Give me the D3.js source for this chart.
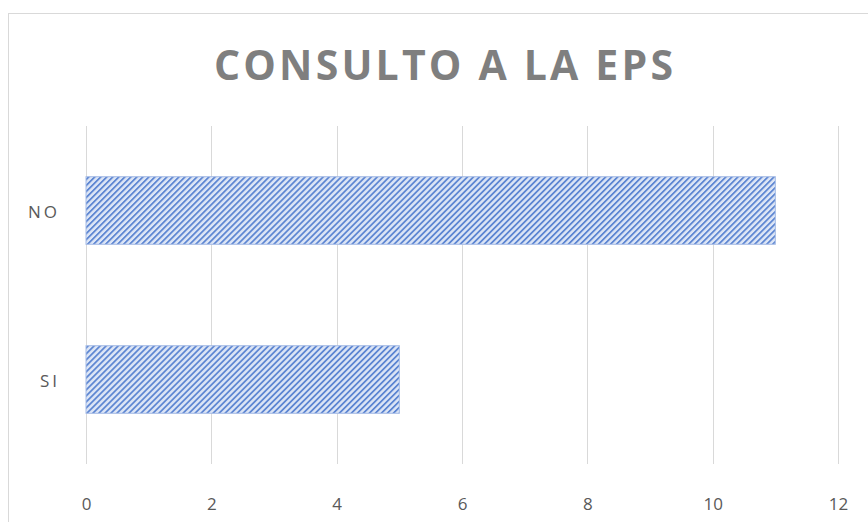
<!DOCTYPE html>
<html>
<head>
<meta charset="utf-8">
<script src="https://cdn.jsdelivr.net/npm/d3@7"></script>
<style>
  body { margin: 0; background: #fff; }
  svg { display: block; }
</style>
</head>
<body>
<svg class="chart" width="868" height="522"></svg>
<script>
// data
var categories = ["NO", "SI"];
var values = [11, 5];
var xTicks = [0, 2, 4, 6, 8, 10, 12];
var title = "CONSULTO A LA EPS";

var svg = d3.select("svg.chart");

// chart border (runs off the right and bottom edge)
svg.append("rect")
    .attr("x", 8.5).attr("y", 13.5)
    .attr("width", 900).attr("height", 600)
    .attr("fill", "#fff")
    .attr("stroke", "#d9d9d9");

// wide upward diagonal pattern
var defs = svg.append("defs");
var pat = defs.append("pattern")
    .attr("id", "diag")
    .attr("patternUnits", "userSpaceOnUse")
    .attr("width", 4.25).attr("height", 8)
    .attr("patternTransform", "rotate(45)");
pat.append("rect").attr("width", 4.25).attr("height", 8).attr("fill", "#dde6f6");
pat.append("rect").attr("width", 1.8).attr("height", 8).attr("fill", "#5d86d2");

var x = d3.scaleLinear()
    .domain([0, 12])
    .range([86, 838]);

var y = d3.scaleBand()
    .domain(categories)
    .range([126, 464])
    .paddingInner(0.6)
    .paddingOuter(0.3);

// gridlines
svg.append("g").selectAll("line")
    .data(xTicks)
    .enter()
    .append("line")
    .attr("x1", function(d) { return Math.round(x(d)) + 0.5; })
    .attr("x2", function(d) { return Math.round(x(d)) + 0.5; })
    .attr("y1", 126).attr("y2", 464)
    .attr("stroke", "#d9d9d9");

// x axis labels
var xAxis = d3.axisBottom(x)
    .tickValues(xTicks)
    .tickSize(0)
    .tickPadding(0);
var gx = svg.append("g")
    .attr("transform", "translate(0,498)")
    .call(xAxis);
gx.select(".domain").remove();
gx.selectAll("text")
    .attr("fill", "#595959")
    .attr("font-family", "'Open Sans', sans-serif")
    .attr("font-size", 17);

// bars
svg.append("g").selectAll("rect")
    .data(values)
    .enter()
    .append("rect")
    .attr("x", x(0))
    .attr("y", function(d, i) { return y(categories[i]); })
    .attr("width", function(d) { return x(d) - x(0); })
    .attr("height", y.bandwidth())
    .attr("fill", "url(#diag)")
    .attr("stroke", "#a5bbe5")
    .attr("stroke-width", 1);

// category labels
var yAxis = d3.axisLeft(y).tickSize(0).tickPadding(0);
var gy = svg.append("g")
    .attr("transform", "translate(60,2)")
    .call(yAxis);
gy.select(".domain").remove();
gy.selectAll("text")
    .attr("fill", "#595959")
    .attr("font-family", "'Open Sans', sans-serif")
    .attr("font-size", 17)
    .attr("letter-spacing", 3);

// title
svg.append("text")
    .attr("x", 214)
    .attr("y", 80)
    .attr("textLength", 459)
    .attr("lengthAdjust", "spacing")
    .attr("fill", "#7f7f7f")
    .attr("font-family", "'Open Sans', sans-serif")
    .attr("font-weight", "bold")
    .attr("font-size", 41)
    .text(title);
</script>
</body>
</html>
